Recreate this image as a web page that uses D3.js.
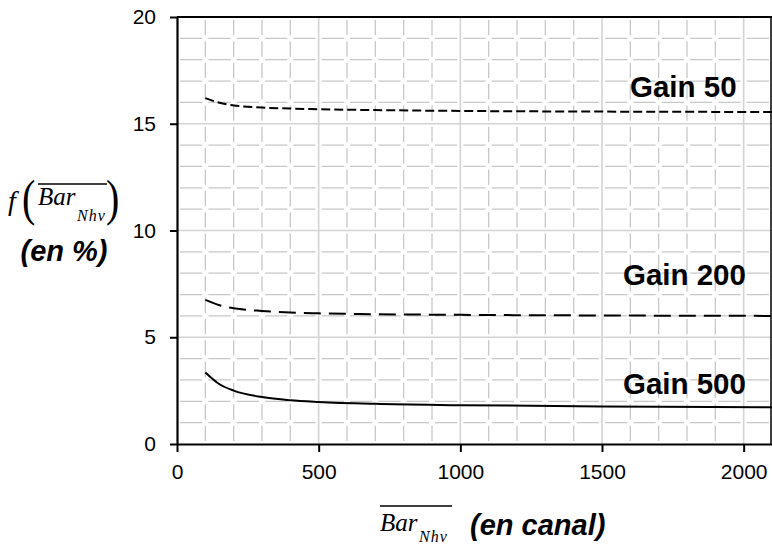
<!DOCTYPE html>
<html>
<head>
<meta charset="utf-8">
<script src="https://cdn.jsdelivr.net/npm/d3@7"></script>
<style>
  body { margin: 0; background: #fff; }
  svg { display: block; }
  .tick text { font: 21px "Liberation Sans", Arial, sans-serif; fill: #000; }
  .gain { font: bold 29.5px "Liberation Sans", Arial, sans-serif; }
  .titre { font: italic bold 29px "Liberation Sans", Arial, sans-serif; }
  .math { font-family: "Liberation Serif", "Times New Roman", serif; font-style: italic; }
</style>
</head>
<body>
<div id="chart"></div>
<script>
"use strict"

// canaux (abscisse commune aux trois courbes)
var canaux = [100, 150, 200, 300, 400, 500, 700, 1000, 1500, 2100];

// f(Bar) en % pour chaque gain
var gain50  = [16.2, 15.98, 15.86, 15.76, 15.71, 15.68, 15.64, 15.6, 15.57, 15.55];
var gain200 = [6.75, 6.5, 6.36, 6.23, 6.16, 6.12, 6.08, 6.05, 6.02, 6.0];
var gain500 = [3.35, 2.8, 2.5, 2.2, 2.05, 1.97, 1.88, 1.82, 1.76, 1.72];

var noms = ["Gain 50", "Gain 200", "Gain 500"];
var ticksX = [0, 500, 1000, 1500, 2000];
var ticksY = [0, 5, 10, 15, 20];

var larguraSVG = 772, alturaSVG = 545;
var margin = {top: 17, right: 0, bottom: 101, left: 177};

var svg = d3.select('#chart').append('svg')
    .attr('width', larguraSVG)
    .attr('height', alturaSVG);

var x = d3.scaleLinear().domain([0, 2100]).range([margin.left, larguraSVG]);
var y = d3.scaleLinear().domain([0, 20]).range([alturaSVG - margin.bottom, margin.top]);

var x0 = x(0), x1 = x(2100), y0 = y(0), y1 = y(20);
var pasX = x(100) - x(0), pasY = y(0) - y(1);

svg.append('clipPath').attr('id', 'zone')
  .append('rect').attr('x', x0).attr('y', y1).attr('width', x1 - x0).attr('height', y0 - y1);

// grille
var grille = svg.append('g');
var gx = d3.range(100, 2100, 100);
var gy = d3.range(1, 20, 1);

grille.selectAll('.gy').data(gy).enter().append('line')
    .attr('x1', x0).attr('x2', x1)
    .attr('y1', d => y(d)).attr('y2', d => y(d))
    .attr('stroke', d => d % 5 == 0 ? '#d4d4d4' : '#c8c8c8')
    .attr('stroke-width', d => d % 5 == 0 ? 1.6 : 1.3)
    .attr('stroke-dasharray', d => d % 5 == 0 ? null : (pasX - 6) + ',6')
    .attr('stroke-dashoffset', pasX - 3);

grille.selectAll('.gx').data(gx).enter().append('line')
    .attr('x1', d => x(d)).attr('x2', d => x(d))
    .attr('y1', y0).attr('y2', y1)
    .attr('stroke', d => d % 500 == 0 ? '#d4d4d4' : '#c8c8c8')
    .attr('stroke-width', d => d % 500 == 0 ? 1.6 : 1.3)
    .attr('stroke-dasharray', d => d % 500 == 0 ? null : (pasY - 6) + ',6')
    .attr('stroke-dashoffset', pasY - 3);

// cadre
svg.append('line').attr('x1', x0).attr('x2', x1).attr('y1', y1).attr('y2', y1)
    .attr('stroke', '#000').attr('stroke-width', 2);
svg.append('line').attr('x1', x1 - 1).attr('x2', x1 - 1).attr('y1', y1).attr('y2', y0)
    .attr('stroke', '#000').attr('stroke-width', 1.5);

// axes
var axeX = svg.append('g')
    .attr('transform', 'translate(0,' + y0 + ')')
    .call(d3.axisBottom(x).tickValues(ticksX).tickFormat(d3.format('d')).tickSize(8).tickSizeOuter(0).tickPadding(12));
var axeY = svg.append('g')
    .attr('transform', 'translate(' + x0 + ',0)')
    .call(d3.axisLeft(y).tickValues(ticksY).tickSize(7).tickSizeOuter(0).tickPadding(14));
[axeX, axeY].forEach(a => {
  a.select('.domain').attr('stroke', '#000').attr('stroke-width', 2.2);
  a.selectAll('.tick line').attr('stroke', '#000').attr('stroke-width', 2);
});

// courbes
var series = [gain50, gain200, gain500];
var tirets = ['9,4', '17,8', null];
var ligne = d3.line().x(d => x(d[0])).y(d => y(d[1])).curve(d3.curveMonotoneX);

svg.append('g').attr('clip-path', 'url(#zone)')
  .selectAll('path').data(series).enter().append('path')
    .attr('d', s => ligne(canaux.map((c, i) => [c, s[i]])))
    .attr('fill', 'none')
    .attr('stroke', '#000')
    .attr('stroke-width', 2)
    .attr('stroke-dasharray', (s, i) => tirets[i]);

// étiquettes des courbes
var posEtiq = [[1975, 16.25], [2008, 7.45], [2008, 2.34]];
svg.selectAll('.gain').data(noms).enter().append('text')
    .attr('class', 'gain')
    .attr('x', (d, i) => x(posEtiq[i][0]))
    .attr('y', (d, i) => y(posEtiq[i][1]))
    .attr('text-anchor', 'end')
    .text(d => d);

// titre axe Y : f(Bar_Nhν) (en %)
var ty = svg.append('g');
ty.append('text').attr('class', 'math').attr('x', 8).attr('y', 210).attr('font-size', 28).text('f');
ty.append('text').attr('class', 'math').attr('x', 22).attr('y', 0).attr('font-size', 40)
  .style('font-style', 'normal').attr('transform', 'translate(0,215) scale(1,1.25)').text('(');
ty.append('text').attr('class', 'math').attr('x', 38).attr('y', 205).attr('font-size', 25).text('Bar');
ty.append('text').attr('class', 'math').attr('x', 77).attr('y', 221).attr('font-size', 16)
  .attr('letter-spacing', 1).text('Nhν');
ty.append('line').attr('x1', 38).attr('x2', 107).attr('y1', 184).attr('y2', 184)
  .attr('stroke', '#000').attr('stroke-width', 1.3);
ty.append('text').attr('class', 'math').attr('x', 106).attr('y', 0).attr('font-size', 40)
  .style('font-style', 'normal').attr('transform', 'translate(0,215) scale(1,1.25)').text(')');
ty.append('text').attr('class', 'titre').attr('x', 64).attr('y', 261)
  .attr('text-anchor', 'middle').text('(en %)');

// titre axe X : Bar_Nhν (en canal)
var tx = svg.append('g');
tx.append('text').attr('class', 'math').attr('x', 380).attr('y', 531).attr('font-size', 25).text('Bar');
tx.append('text').attr('class', 'math').attr('x', 419).attr('y', 542).attr('font-size', 16)
  .attr('letter-spacing', 1).text('Nhν');
tx.append('line').attr('x1', 380).attr('x2', 452).attr('y1', 506).attr('y2', 506)
  .attr('stroke', '#000').attr('stroke-width', 1.3);
tx.append('text').attr('class', 'titre').attr('x', 470).attr('y', 535).text('(en canal)');
</script>
</body>
</html>
